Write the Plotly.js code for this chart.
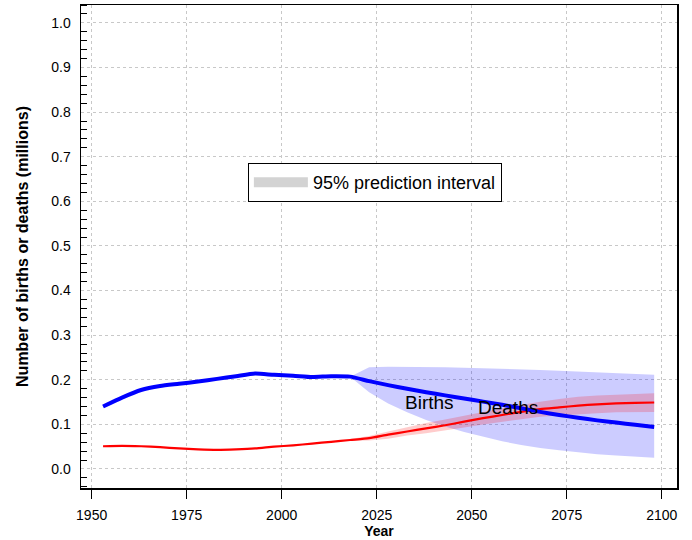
<!DOCTYPE html>
<html>
<head>
<meta charset="utf-8">
<script src="https://cdn.plot.ly/plotly-3.0.1.min.js"></script>
<style>html,body{margin:0;padding:0;background:#fff}#chart{width:692px;height:540px}</style>
</head>
<body>
<div id="chart"></div>
<script>
// Observed / projected years
const years = [1953,1958,1963,1968,1973,1978,1983,1988,1993,1998,2003,2008,2013,2018,
               2023,2028,2033,2038,2043,2048,2053,2058,2063,2068,2073,2078,2083,2088,2093,2098];
// Births (millions)
const births = [0.140,0.160,0.177,0.186,0.191,0.196,0.202,0.208,0.214,0.211,0.209,0.206,0.208,0.207,
                0.197,0.188,0.180,0.172,0.165,0.158,0.151,0.144,0.136,0.128,0.121,0.115,0.109,0.104,0.099,0.094];
// Deaths (millions)
const deaths = [0.051,0.052,0.051,0.049,0.046,0.044,0.043,0.044,0.046,0.050,0.053,0.057,0.061,0.065,
                0.069,0.077,0.084,0.091,0.098,0.106,0.114,0.121,0.128,0.134,0.138,0.142,0.145,0.147,0.148,0.149];
// Projection years for prediction intervals
const projYears = [2018,2023,2028,2033,2038,2043,2048,2053,2058,2063,2068,2073,2078,2083,2088,2093,2098];
const birthsUpper = [0.207,0.228,0.229,0.229,0.228,0.228,0.227,0.226,0.225,0.224,0.222,0.220,0.218,0.216,0.214,0.213,0.211];
const birthsLower = [0.207,0.172,0.147,0.127,0.110,0.095,0.083,0.072,0.062,0.054,0.047,0.042,0.037,0.033,0.030,0.027,0.025];
const deathsUpper = [0.067,0.074,0.084,0.094,0.103,0.111,0.120,0.128,0.136,0.144,0.151,0.157,0.162,0.165,0.167,0.169,0.170];
const deathsLower = [0.063,0.064,0.068,0.075,0.080,0.086,0.093,0.100,0.106,0.112,0.117,0.120,0.123,0.125,0.127,0.128,0.128];
// Labels
const seriesLabels = ["Births","Deaths"];
const labelPos = {Births:[2039,0.150], Deaths:[2059.6,0.137]};
const legendLabel = "95% prediction interval";
const xTicks = [1950,1975,2000,2025,2050,2075,2100];

const FONT = "Liberation Sans, Arial, Helvetica, sans-serif";

const traces = [
  {x: projYears, y: birthsLower, mode:'lines', line:{width:0, color:'rgba(0,0,0,0)'}, showlegend:false, hoverinfo:'skip'},
  {x: projYears, y: birthsUpper, mode:'lines', line:{width:0, color:'rgba(0,0,0,0)'}, fill:'tonexty', fillcolor:'rgba(0,0,255,0.2)', showlegend:false, hoverinfo:'skip'},
  {x: projYears, y: deathsLower, mode:'lines', line:{width:0, color:'rgba(0,0,0,0)'}, showlegend:false, hoverinfo:'skip'},
  {x: projYears, y: deathsUpper, mode:'lines', line:{width:0, color:'rgba(0,0,0,0)'}, fill:'tonexty', fillcolor:'rgba(255,0,0,0.2)', showlegend:false, hoverinfo:'skip'},
  {x: years, y: deaths, mode:'lines', name: seriesLabels[1], line:{color:'#ff0000', width:2.2, shape:'spline', smoothing:0.6}, showlegend:false},
  {x: years, y: births, mode:'lines', name: seriesLabels[0], line:{color:'#0000ff', width:4, shape:'spline', smoothing:0.6}, showlegend:false},
  {x: [null], y: [null], mode:'lines', name: legendLabel, line:{color:'#d3d3d3', width:10}, showlegend:true}
];

const layout = {
  width: 692, height: 540,
  margin: {l:81, r:15, t:5, b:52},
  paper_bgcolor:'#fff', plot_bgcolor:'#fff',
  font: {family: FONT, color:'#000', size:12},
  showlegend: true,
  legend: {x:0.28, y:0.673, xanchor:'left', yanchor:'top', bordercolor:'#000', borderwidth:1,
           bgcolor:'#fff', font:{size:18, family:FONT}, itemwidth:54},
  xaxis: {
    range:[1947.2, 2104], tickvals: xTicks, ticks:'outside', ticklen:9, tickwidth:1, tickcolor:'#000',
    showline:true, linecolor:'#000', linewidth:1.5, mirror:true,
    showgrid:true, gridcolor:'#c8c8c8', griddash:'dot', gridwidth:1, zeroline:false,
    tickfont:{size:14, family:FONT}, ticklabelstandoff:5,
    title:{text:'<b>Year</b>', font:{size:14, family:FONT}, standoff:2}
  },
  yaxis: {
    range:[-0.0426, 1.040], tick0:0, dtick:0.1, tickformat:'.1f', ticks:'',
    minor:{dtick:0.02, tick0:0, ticks:'inside', ticklen:6, tickcolor:'#000', tickwidth:1, showgrid:false},
    showline:true, linecolor:'#000', linewidth:1.5, mirror:true,
    showgrid:true, gridcolor:'#c8c8c8', griddash:'dot', gridwidth:1, zeroline:false,
    tickfont:{size:14, family:FONT}, ticklabelstandoff:6,
    title:{text:'<b>Number of births or deaths (millions)</b>', font:{size:16, family:FONT}, standoff:18}
  },
  annotations: seriesLabels.map(s => ({x: labelPos[s][0], y: labelPos[s][1], text: s, showarrow:false,
                                        font:{size:19, family:FONT, color:'#000'}, xanchor:'center', yanchor:'middle'}))
};

Plotly.newPlot('chart', traces, layout, {displayModeBar:false, staticPlot:true});
</script>
</body>
</html>
